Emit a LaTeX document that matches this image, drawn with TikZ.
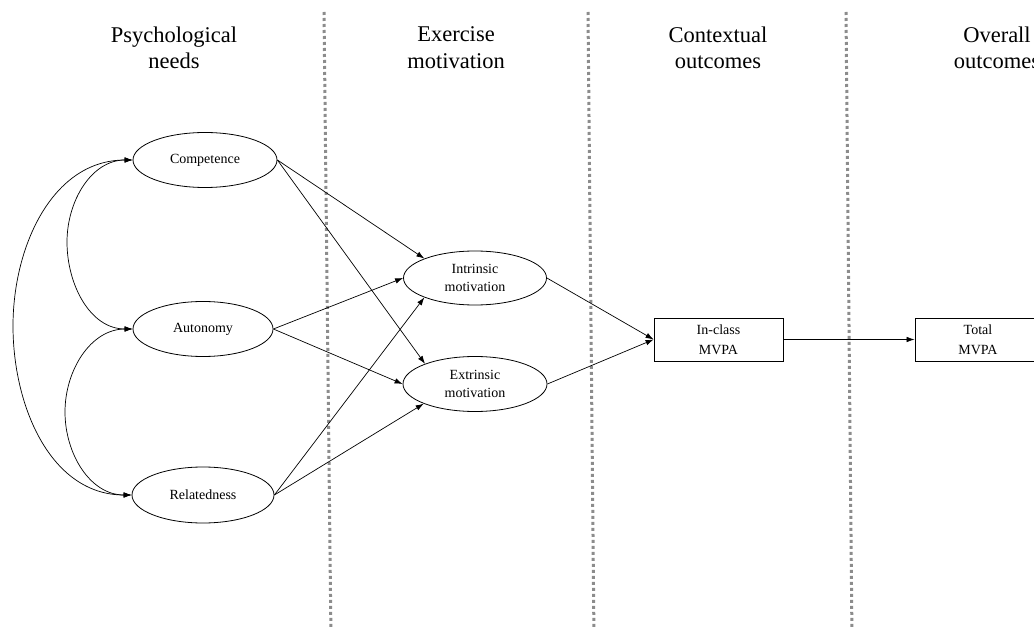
\documentclass[tikz,border=0pt]{standalone}
\usepackage{fontspec}
\setmainfont{Liberation Serif}
\usetikzlibrary{shapes.geometric,arrows.meta}
\tikzset{
  header/.style={align=center,inner sep=0pt,anchor=north,font=\fontsize{22.5}{26.5}\selectfont},
  latent/.style={ellipse,draw,line width=0.8pt,inner sep=0pt,align=center,font=\fontsize{14}{18}\selectfont},
  observed/.style={rectangle,draw,line width=0.8pt,inner sep=0pt,align=center,minimum width=129pt,minimum height=43pt,font=\fontsize{14}{19.5}\selectfont},
  causal/.style={line width=0.7pt,-{Latex[length=8pt,width=5.5pt]}},
  cov/.style={line width=0.7pt,{Latex[length=8pt,width=5.5pt]}-{Latex[length=8pt,width=5.5pt]}},
  divider/.style={line width=3pt,draw=black!45,dash pattern=on 3pt off 3pt},
}
\begin{document}
\begin{tikzpicture}[x=1pt,y=1pt]
\path[use as bounding box] (0,0) rectangle (1034,-628);
\clip (0,0) rectangle (1034,-628);

% dividers
\coordinate (d1t) at (324,-12); \coordinate (d1b) at (331,-640);
\coordinate (d2t) at (588,-12); \coordinate (d2b) at (594,-640);
\coordinate (d3t) at (846,-12); \coordinate (d3b) at (852,-640);
\draw[divider] (d1t) -- (d1b);
\draw[divider] (d2t) -- (d2b);
\draw[divider] (d3t) -- (d3b);

% headers
\node[header] (h1) at (174,-26.6) {Psychological\\needs};
\node[header] (h2) at (456,-26.9) {Exercise\\motivation};
\node[header] (h3) at (718,-26.6) {Contextual\\outcomes};
\node[header] (h4) at (997,-26.6) {Overall\\outcomes};

% nodes
\node[latent,minimum width=144pt,minimum height=55pt] (comp) at (205,-160) {Competence};
\node[latent,minimum width=140pt,minimum height=55pt] (auto) at (203,-329) {Autonomy};
\node[latent,minimum width=142pt,minimum height=56pt] (rel) at (203,-495) {Relatedness};
\node[latent,minimum width=143pt,minimum height=54pt] (intr) at (475,-278) {Intrinsic\\motivation};
\node[latent,minimum width=144pt,minimum height=55pt] (extr) at (475,-384) {Extrinsic\\motivation};
\node[observed] (incl) at (718.5,-339.5) {In-class\\MVPA};
\node[observed,minimum width=126pt] (total) at (978,-339.5) {Total\\MVPA};

% covariances
\coordinate (cu) at (67,-242);
\coordinate (cl) at (65,-412);
\coordinate (co) at (13,-326);
\draw[cov] (comp.west) to[out=180,in=90] (cu) to[out=-90,in=180] (auto.west);
\draw[cov] (auto.west) to[out=180,in=90] (cl) to[out=-90,in=180] (rel.west);
\draw[cov] (comp.west) to[out=180,in=90] (co) to[out=-90,in=180] (rel.west);

% paths
\draw[causal] (comp.east) -- (intr.159);
\draw[causal] (comp.east) -- (extr.158);
\draw[causal] (auto.east) -- (intr.west);
\draw[causal] (auto.east) -- (extr.west);
\draw[causal] (rel.east) -- (intr.201);
\draw[causal] (rel.east) -- (extr.201);
\draw[causal] (intr.east) -- (incl.west);
\draw[causal] (extr.east) -- (incl.west);
\draw[causal] (incl.east) -- (total.west);
\end{tikzpicture}
\end{document}
